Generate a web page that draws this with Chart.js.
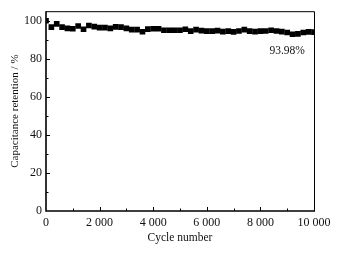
<!DOCTYPE html>
<html>
<head>
<meta charset="utf-8">
<script src="https://cdn.jsdelivr.net/npm/chart.js@4/dist/chart.umd.min.js"></script>
<style>
  html, body { margin: 0; padding: 0; background: #fff; }
  #wrap { width: 339px; height: 254px; }
</style>
</head>
<body>
<div id="wrap"><canvas id="cap" width="339" height="254"></canvas></div>
<script>
// cycle numbers, one point every 200 cycles
var cycles = []
for (var c = 0; c <= 10000; c += 200) cycles.push(c)

// capacitance retention (%)
var retention = [
  100, 96.6, 98.3, 96.6, 96.0, 95.8, 97.2, 95.5, 97.5, 96.9,
  96.4, 96.4, 96.0, 96.8, 96.6, 96.0, 95.3, 95.3, 94.2, 95.6,
  95.8, 95.8, 95.0, 95.0, 95.0, 95.0, 95.5, 94.5, 95.3, 94.8,
  94.5, 94.5, 94.8, 94.3, 94.5, 94.1, 94.6, 95.3, 94.5, 94.3,
  94.5, 94.6, 95.0, 94.6, 94.3, 93.8, 92.9, 93.1, 93.8, 94.1,
  93.98
]

var xTicks = [0, 2000, 4000, 6000, 8000, 10000]
var yTicks = [0, 20, 40, 60, 80, 100]
var noteText = "93.98%"
var noteAt = { x: 9000, y: 84 }

var serif = "'Liberation Serif', 'DejaVu Serif', serif"

function fmt(v) {
  return String(v).replace(/\B(?=(\d{3})+(?!\d))/g, " ")
}

var points = _zip(cycles, retention)
function _zip(a, b) {
  var out = []
  for (var i = 0; i < a.length; i++) out.push({ x: a[i], y: b[i] })
  return out
}

// inward ticks, frame and the label on the plot
var framePlugin = {
  id: 'frame',
  afterDraw: function (chart) {
    var ctx = chart.ctx
    var a = chart.chartArea
    var xs = chart.scales.x
    var ys = chart.scales.y
    ctx.save()
    ctx.strokeStyle = '#000'

    // top / right thin border
    ctx.lineWidth = 1
    ctx.beginPath()
    ctx.moveTo(a.left, a.top + 0.5)
    ctx.lineTo(a.right + 0.5, a.top + 0.5)
    ctx.lineTo(a.right + 0.5, a.bottom)
    ctx.stroke()

    // x ticks (major 2000, minor 1000)
    for (var v = 1000; v < 10000; v += 1000) {
      var px = Math.round(xs.getPixelForValue(v)) + 0.5
      var len = (v % 2000 === 0) ? 4 : 2.5
      ctx.beginPath()
      ctx.moveTo(px, a.bottom)
      ctx.lineTo(px, a.bottom - len)
      ctx.stroke()
    }
    // y ticks (major 20, minor 10)
    for (var w = 10; w <= 100; w += 10) {
      var py = Math.round(ys.getPixelForValue(w)) + 0.5
      var l2 = (w % 20 === 0) ? 4 : 2.5
      ctx.beginPath()
      ctx.moveTo(a.left, py)
      ctx.lineTo(a.left + l2, py)
      ctx.stroke()
    }

    // left / bottom axis
    ctx.lineWidth = 1.6
    ctx.beginPath()
    ctx.moveTo(a.left, a.top)
    ctx.lineTo(a.left, a.bottom)
    ctx.lineTo(a.right + 1, a.bottom)
    ctx.stroke()

    ctx.fillStyle = '#111'
    ctx.font = "11.5px " + serif
    ctx.textAlign = 'center'
    ctx.textBaseline = 'middle'
    ctx.fillText(noteText, xs.getPixelForValue(noteAt.x), ys.getPixelForValue(noteAt.y))
    ctx.restore()
  }
}

var ctx = document.getElementById("cap").getContext("2d")
var myChart = new Chart(ctx, {
  type: 'scatter',
  data: {
    datasets: [{
      data: points,
      showLine: false,
      pointStyle: 'rect',
      pointRadius: 4,
      pointHoverRadius: 4,
      backgroundColor: '#000',
      borderColor: '#000',
      borderWidth: 0
    }]
  },
  options: {
    responsive: false,
    animation: false,
    devicePixelRatio: 1,
    layout: { padding: { left: 0, top: 11, right: 25, bottom: 0 } },
    plugins: {
      legend: { display: false },
      tooltip: { enabled: false }
    },
    scales: {
      x: {
        type: 'linear',
        min: 0,
        max: 10000,
        afterBuildTicks: function (s) { s.ticks = xTicks.map(function (v) { return { value: v } }) },
        afterFit: function (s) { s.height = 43 },
        grid: { display: false, drawTicks: false },
        border: { display: false },
        ticks: {
          padding: 5,
          color: '#111',
          maxRotation: 0,
          font: { family: serif, size: 12 },
          callback: function (v) { return fmt(v) }
        },
        title: {
          display: true,
          text: 'Cycle number',
          color: '#111',
          font: { family: serif, size: 11.5 },
          padding: { top: 2, bottom: 9 }
        }
      },
      y: {
        min: 0,
        max: 105,
        afterBuildTicks: function (s) { s.ticks = yTicks.map(function (v) { return { value: v } }) },
        afterFit: function (s) { s.width = 46 },
        grid: { display: false, drawTicks: false },
        border: { display: false },
        ticks: {
          padding: 4,
          color: '#111',
          font: { family: serif, size: 12 }
        },
        title: {
          display: true,
          text: 'Capacitance retention / %',
          color: '#111',
          font: { family: serif, size: 11 },
          padding: { top: 9, bottom: 4 }
        }
      }
    }
  },
  plugins: [framePlugin]
})
</script>
</body>
</html>
